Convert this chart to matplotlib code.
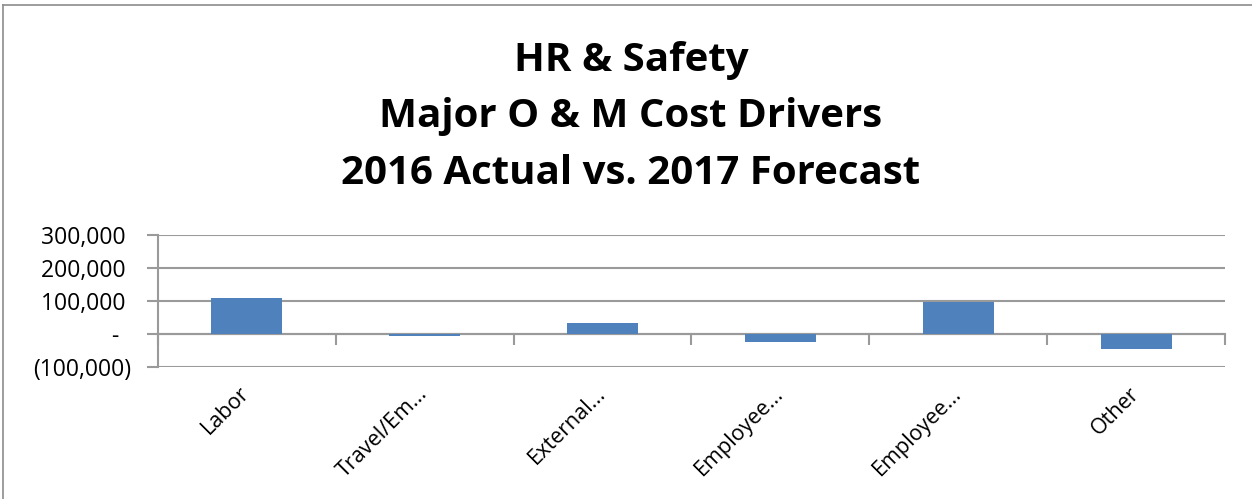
import matplotlib
matplotlib.use("Agg")
import matplotlib.pyplot as plt
from matplotlib.lines import Line2D
from matplotlib.ticker import FuncFormatter
import numpy as np

TITLE_LINES = ["HR & Safety", "Major O & M Cost Drivers", "2016 Actual vs. 2017 Forecast"]
CATEGORIES  = ["Labor", "Travel/Em...", "External...", "Employee...", "Employee...", "Other"]
VALUES      = [109000, -7000, 33000, -25000, 96000, -46000]
Y_TICKS     = [-100000, 0, 100000, 200000, 300000]

BAR_COLOR  = "#4F81BD"
GRID_COLOR = "#9a9a9a"
FONT       = "Open Sans"

plt.rcParams["font.family"] = [FONT, "DejaVu Sans"]

W, H = 1252, 499
fig = plt.figure(figsize=(W / 100, H / 100), dpi=100)

# chart area border (left + top visible)
fig.add_artist(Line2D([3 / W, 3 / W], [0, 1 - 5 / H], color="#8c8c8c", lw=1.2))
fig.add_artist(Line2D([3 / W, 1], [1 - 5 / H, 1 - 5 / H], color="#8c8c8c", lw=1.2))

for i, line in enumerate(TITLE_LINES):
    fig.text(631 / W, 1 - (60 + 57 * i) / H, line, ha="center", va="center",
             fontsize=29, fontweight="bold")

left, right, top, bottom = 158, 1225, 235, 367
ax = fig.add_axes([left / W, 1 - bottom / H, (right - left) / W, (bottom - top) / H])

x = np.arange(len(CATEGORIES))
ax.bar(x, VALUES, width=0.4, color=BAR_COLOR, zorder=3)

ax.set_xlim(-0.5, len(CATEGORIES) - 0.5)
ax.set_ylim(Y_TICKS[0], Y_TICKS[-1])
ax.set_yticks(Y_TICKS)
ax.yaxis.grid(True, color=GRID_COLOR, lw=1.5, zorder=0)
ax.set_axisbelow(True)

def fmt(v, pos):
    if v == 0:
        return "-  "
    if v < 0:
        return f"({abs(int(v)):,})"
    return f"{int(v):,} "

ax.yaxis.set_major_formatter(FuncFormatter(fmt))
ax.tick_params(axis="y", length=8, color=GRID_COLOR, width=1.5, labelsize=16.5, pad=11)

for s in ["top", "right"]:
    ax.spines[s].set_visible(False)
ax.spines["left"].set_color(GRID_COLOR)
ax.spines["left"].set_linewidth(1.5)
ax.spines["bottom"].set_position(("data", 0))
ax.spines["bottom"].set_color(GRID_COLOR)
ax.spines["bottom"].set_linewidth(1.5)

ax.set_xticks(np.arange(len(CATEGORIES) + 1) - 0.5)
ax.tick_params(axis="x", length=8, color=GRID_COLOR, width=1.5, labelbottom=False)

for xi, name in zip(x, CATEGORIES):
    ax.text(xi + 0.04, -0.12, name, transform=ax.get_xaxis_transform(),
            rotation=45, ha="right", va="top", fontsize=15.5)

fig.savefig("out.png", dpi=100)
